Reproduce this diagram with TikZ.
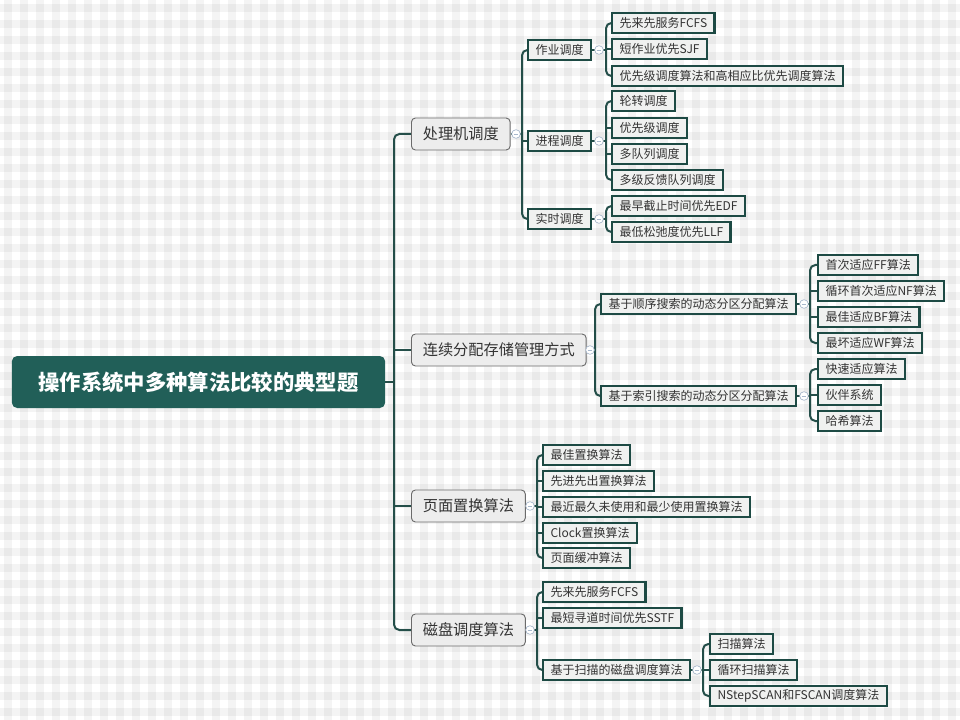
\documentclass[tikz,border=0pt]{standalone}
\usepackage{fontspec}
\setmainfont{Noto Sans CJK SC}
\usetikzlibrary{calc}
\definecolor{rootc}{HTML}{215F58}
\definecolor{edgec}{HTML}{244E49}
\definecolor{lbord}{HTML}{1D4A44}
\definecolor{lfill}{HTML}{F0F1F0}
\definecolor{mfill}{HTML}{EDEDED}
\definecolor{mbord}{HTML}{6B6B6B}
\definecolor{txt}{HTML}{333333}
\definecolor{collc}{HTML}{A8B8CC}
\pgfdeclarelayer{pat}\pgfdeclarelayer{bg}\pgfsetlayers{pat,bg,main}
\tikzset{
  rootbox/.style={rectangle, rounded corners=4pt, fill=rootc, text=white,
    minimum width=280pt, minimum height=39pt, inner sep=0pt,
    font=\fontsize{16}{18}\selectfont\bfseries},
  midbox/.style={rectangle, rounded corners=3pt, fill=mfill, draw=mbord, line width=0.7pt,
    text=txt, minimum height=24pt, inner xsep=8.5pt, inner ysep=0pt, anchor=west,
    font=\fontsize{11.4}{13}\selectfont},
  leafbox/.style={rectangle, fill=lfill, draw=lbord, line width=1.8pt,
    text=txt, minimum height=15pt, inner xsep=5.5pt, inner ysep=0pt, anchor=west,
    font=\fontsize{9}{10}\selectfont},
  conn/.style={draw=edgec, line width=1.5pt, rounded corners=4pt},
  coll/.style={circle, draw=collc, fill=white, line width=0.5pt, minimum size=6.5pt, inner sep=0pt,
    path picture={\draw[collc, line width=0.5pt] ([xshift=-1.8pt]path picture bounding box.center) -- ([xshift=1.8pt]path picture bounding box.center);}},
}
\begin{document}
\begin{tikzpicture}[x=0.75pt,y=-0.75pt]
\useasboundingbox (0,0) rectangle (960,720);
\begin{pgfonlayer}{pat}
  \fill[white] (0,0) rectangle (960,720);
  \foreach \i in {0,...,59} {\fill[black,opacity=0.045] (\i*16+4,0) rectangle ++(8,720);}
  \foreach \j in {0,...,44} {\fill[black,opacity=0.045] (0,\j*16+4) rectangle ++(960,8);}
\end{pgfonlayer}

% root and level 1
\node[rootbox] (R) at (198.5,382) {操作系统中多种算法比较的典型题};
\node[midbox] (A) at (411,134) {处理机调度};
\node[midbox] (B) at (411,350) {连续分配存储管理方式};
\node[midbox] (C) at (411,506) {页面置换算法};
\node[midbox] (D) at (411,630) {磁盘调度算法};

% 处理机调度
\node[leafbox] (A1) at (527,50) {作业调度};
\node[leafbox] (A2) at (527,141) {进程调度};
\node[leafbox] (A3) at (527,219) {实时调度};
\node[leafbox] (A1a) at (611,23) {先来先服务FCFS};
\node[leafbox] (A1b) at (611,49) {短作业优先SJF};
\node[leafbox] (A1c) at (611,76) {优先级调度算法和高相应比优先调度算法};
\node[leafbox] (A2a) at (611,101) {轮转调度};
\node[leafbox] (A2b) at (611,128) {优先级调度};
\node[leafbox] (A2c) at (611,154) {多队列调度};
\node[leafbox] (A2d) at (611,180) {多级反馈队列调度};
\node[leafbox] (A3a) at (611,206) {最早截止时间优先EDF};
\node[leafbox] (A3b) at (611,232) {最低松弛度优先LLF};

% 连续分配
\node[leafbox] (B1) at (600,304) {基于顺序搜索的动态分区分配算法};
\node[leafbox] (B2) at (600,396) {基于索引搜索的动态分区分配算法};
\node[leafbox] (B1a) at (817,265) {首次适应FF算法};
\node[leafbox] (B1b) at (817,291) {循环首次适应NF算法};
\node[leafbox] (B1c) at (817,317) {最佳适应BF算法};
\node[leafbox] (B1d) at (817,343) {最坏适应WF算法};
\node[leafbox] (B2a) at (817,369) {快速适应算法};
\node[leafbox] (B2b) at (817,395) {伙伴系统};
\node[leafbox] (B2c) at (817,421) {哈希算法};

% 页面置换
\node[leafbox] (C1) at (542,455) {最佳置换算法};
\node[leafbox] (C2) at (542,481) {先进先出置换算法};
\node[leafbox] (C3) at (542,507) {最近最久未使用和最少使用置换算法};
\node[leafbox] (C4) at (542,533) {Clock置换算法};
\node[leafbox] (C5) at (542,558) {页面缓冲算法};

% 磁盘调度
\node[leafbox] (D1) at (542,592) {先来先服务FCFS};
\node[leafbox] (D2) at (542,618) {最短寻道时间优先SSTF};
\node[leafbox] (D3) at (542,670) {基于扫描的磁盘调度算法};
\node[leafbox] (D3a) at (709,644) {扫描算法};
\node[leafbox] (D3b) at (709,670) {循环扫描算法};
\node[leafbox] (D3c) at (709,696) {NStepSCAN和FSCAN调度算法};

% spine coordinates
\coordinate (sR) at (394,382);
\coordinate (sA) at (522,134);
\coordinate (sA1) at (606,50);
\coordinate (sA2) at (606,141);
\coordinate (sA3) at (606,219);
\coordinate (sB) at (595,350);
\coordinate (sB1) at (810,304);
\coordinate (sB2) at (810,396);
\coordinate (sC) at (537,506);
\coordinate (sD) at (537,630);
\coordinate (sD3) at (703,670);

\begin{pgfonlayer}{bg}
  % root
  \draw[conn] (R.east) -- (sR);
  \draw[conn] (A.west) -| (sR |- D.west) -- (D.west);
  \draw[conn] (sR |- B.west) -- (B.west);
  \draw[conn] (sR |- C.west) -- (C.west);
  % A
  \draw[conn] (A.east) -- (sA);
  \draw[conn] (A1.west) -| (sA |- A3.west) -- (A3.west);
  \draw[conn] (sA |- A2.west) -- (A2.west);
  \draw[conn] (A1.east) -- (sA1);
  \draw[conn] (A1a.west) -| (sA1 |- A1c.west) -- (A1c.west);
  \draw[conn] (sA1 |- A1b.west) -- (A1b.west);
  \draw[conn] (A2.east) -- (sA2);
  \draw[conn] (A2a.west) -| (sA2 |- A2d.west) -- (A2d.west);
  \draw[conn] (sA2 |- A2b.west) -- (A2b.west);
  \draw[conn] (sA2 |- A2c.west) -- (A2c.west);
  \draw[conn] (A3.east) -- (sA3);
  \draw[conn] (A3a.west) -| (sA3 |- A3b.west) -- (A3b.west);
  % B
  \draw[conn] (B.east) -- (sB);
  \draw[conn] (B1.west) -| (sB |- B2.west) -- (B2.west);
  \draw[conn] (B1.east) -- (sB1);
  \draw[conn] (B1a.west) -| (sB1 |- B1d.west) -- (B1d.west);
  \draw[conn] (sB1 |- B1b.west) -- (B1b.west);
  \draw[conn] (sB1 |- B1c.west) -- (B1c.west);
  \draw[conn] (B2.east) -- (sB2);
  \draw[conn] (B2a.west) -| (sB2 |- B2c.west) -- (B2c.west);
  \draw[conn] (sB2 |- B2b.west) -- (B2b.west);
  % C
  \draw[conn] (C.east) -- (sC);
  \draw[conn] (C1.west) -| (sC |- C5.west) -- (C5.west);
  \draw[conn] (sC |- C2.west) -- (C2.west);
  \draw[conn] (sC |- C3.west) -- (C3.west);
  \draw[conn] (sC |- C4.west) -- (C4.west);
  % D
  \draw[conn] (D.east) -- (sD);
  \draw[conn] (D1.west) -| (sD |- D3.west) -- (D3.west);
  \draw[conn] (sD |- D2.west) -- (D2.west);
  \draw[conn] (D3.east) -- (sD3);
  \draw[conn] (D3a.west) -| (sD3 |- D3c.west) -- (D3c.west);
  \draw[conn] (sD3 |- D3b.west) -- (D3b.west);
\end{pgfonlayer}

% collapse markers
\node[coll] (kA) at (516,134) {};
\node[coll] (kA1) at (599,50) {};
\node[coll] (kA2) at (599,141) {};
\node[coll] (kA3) at (599,219) {};
\node[coll] (kB) at (590,350) {};
\node[coll] (kB1) at (804,304) {};
\node[coll] (kB2) at (804,396) {};
\node[coll] (kC) at (530,506) {};
\node[coll] (kD) at (530,630) {};
\node[coll] (kD3) at (697,670) {};
\end{tikzpicture}
\end{document}
